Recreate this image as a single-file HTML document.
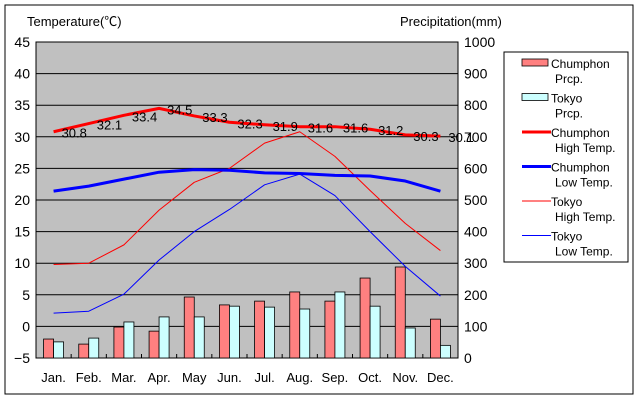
<!DOCTYPE html>
<html><head><meta charset="utf-8">
<style>
html,body{margin:0;padding:0;background:#fff;}
svg{display:block;font-family:"Liberation Sans","Noto Sans CJK JP",sans-serif;}
</style></head>
<body>
<svg id="chart" width="640" height="400" viewBox="0 0 640 400"></svg>
<script>
const months=["Jan.","Feb.","Mar.","Apr.","May","Jun.","Jul.","Aug.","Sep.","Oct.","Nov.","Dec."];
const chumphonPrcp=[60,44,98,85,193,168,180,209,180,253,288,123];
const tokyoPrcp=[51,63,114,130,130,164,161,155,209,164,95,40];
const chumphonHigh=[30.8,32.1,33.4,34.5,33.3,32.3,31.9,31.6,31.6,31.2,30.3,30.1];
const chumphonLow=[21.4,22.2,23.3,24.4,24.8,24.7,24.3,24.2,23.9,23.8,23.0,21.4];
const tokyoHigh=[9.8,10.0,12.9,18.4,22.8,25.0,29.0,30.8,26.9,21.5,16.3,12.0];
const tokyoLow=[2.1,2.4,5.1,10.5,15.0,18.5,22.4,24.1,20.7,15.0,9.5,4.8];
const tempTicks=[-5,0,5,10,15,20,25,30,35,40,45];
const prcpTicks=[0,100,200,300,400,500,600,700,800,900,1000];

const NS="http://www.w3.org/2000/svg";
const svg=document.getElementById('chart');
const L=36,R=458,T=42,B=358;
const yT=v=>B-(v+5)/50*(B-T);
const yP=v=>B-v/1000*(B-T);
const bw=(R-L)/12;
const xC=i=>L+bw*(i+0.5);
function mk(tag,attrs,parent){const e=document.createElementNS(NS,tag);for(const k in attrs)e.setAttribute(k,attrs[k]);(parent||svg).appendChild(e);return e;}
function txt(x,y,s,anchor,size){const t=mk('text',{x:x,y:y,'font-size':size||13,'text-anchor':anchor||'start',fill:'#000'});t.textContent=s;return t;}

const frame=mk('rect',{x:5,y:5,width:628,height:389,fill:'#fff',stroke:'#000','stroke-width':1});


const plot=mk('rect',{x:L,y:T,width:R-L,height:B-T,fill:'#c0c0c0',stroke:'#000'});



tempTicks.forEach((v,i)=>{
  const y=yT(v);
  if(v>-5&&v<45){const g=mk('line',{x1:L,x2:R,y1:y,y2:y,stroke:'#000','stroke-width':1});
    
    }
  const t=txt(30,y+5,String(v).replace('-','−'),'end',14);
  
  
});
prcpTicks.forEach(v=>{
  const t=txt(464,yP(v)+5,String(v),'start',14);
  
  
});
months.forEach((m,i)=>{
  const t=txt(xC(i),382,m,'middle',13);
  
  
  const tk=mk('line',{x1:L+bw*(i+1),x2:L+bw*(i+1),y1:B,y2:B-4,stroke:'#000'});
  
  
});
const ttl=txt(27,26,'Temperature(℃)','start',13);


const ttr=txt(400,26,'Precipitation(mm)','start',13);



const barW=10;
chumphonPrcp.forEach((v,i)=>{
  const r=mk('rect',{x:xC(i)-barW,y:yP(v),width:barW,height:B-yP(v),fill:'#ff8080',stroke:'#000','stroke-width':0.8});
  
  
});
tokyoPrcp.forEach((v,i)=>{
  const r=mk('rect',{x:xC(i),y:yP(v),width:barW,height:B-yP(v),fill:'#ccffff',stroke:'#000','stroke-width':0.8});
  
  
});
function line(arr,color,w,name){
  const p=mk('polyline',{points:arr.map((v,i)=>xC(i)+','+yT(v)).join(' '),fill:'none',stroke:color,'stroke-width':w,'stroke-linejoin':'round'});
  
  
}
line(tokyoHigh,'#ff0000',1,'line-tokyo-high');
line(tokyoLow,'#0000ff',1,'line-tokyo-low');
line(chumphonLow,'#0000ff',3,'line-chumphon-low');
line(chumphonHigh,'#ff0000',3,'line-chumphon-high');
chumphonHigh.forEach((v,i)=>{
  const t=txt(xC(i)+8,yT(v)+6,v.toFixed(1),'start',13);
  
  
});

const lg=mk('g',{});


mk('rect',{x:504,y:52,width:124,height:210,fill:'#fff',stroke:'#000'},lg);
const entries=[['rect','#ff8080','Chumphon','Prcp.'],['rect','#ccffff','Tokyo','Prcp.'],['line3','#ff0000','Chumphon','High Temp.'],['line3','#0000ff','Chumphon','Low Temp.'],['line1','#ff0000','Tokyo','High Temp.'],['line1','#0000ff','Tokyo','Low Temp.']];
entries.forEach((e,i)=>{
  const y=63+i*34.5;
  const g=mk('g',{},lg);
  
  
  if(e[0]==='rect')mk('rect',{x:522,y:y-4,width:26,height:7,fill:e[1],stroke:'#000','stroke-width':0.8},g);
  else mk('line',{x1:522,x2:551,y1:y,y2:y,stroke:e[1],'stroke-width':e[0]==='line3'?3:1},g);
  const a=mk('text',{x:551,y:y+5,'font-size':12},g);a.textContent=e[2];
  const b=mk('text',{x:555,y:y+20,'font-size':12},g);b.textContent=e[3];
});
</script>
</body></html>
